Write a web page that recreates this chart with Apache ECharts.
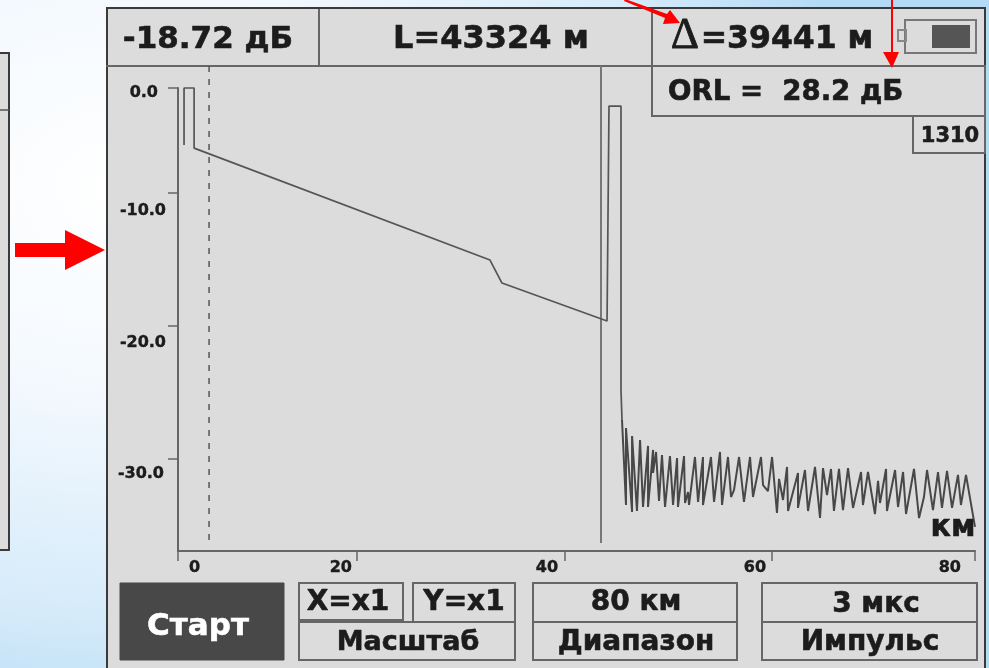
<!DOCTYPE html>
<html>
<head>
<meta charset="utf-8">
<style>
html,body{margin:0;padding:0;width:989px;height:668px;overflow:hidden;
background:radial-gradient(ellipse 75% 85% at 12% 28%, #ffffff 0%, #f4f9fe 35%, #d6ebfa 75%, #b4dbf5 100%);}
#c{width:989px;height:668px;filter:blur(0.4px);}
</style>
<script src="https://cdn.jsdelivr.net/npm/echarts@6/dist/echarts.min.js"></script>
</head>
<body>
<div id="c"></div>
<script>
// Distance ticks (km) and their labels
const xTickValues = [2.24, 19.7, 40, 60.2, 80];
const xTickLabels = ['0', '20', '40', '60', '80'];
// Level ticks (dB) and their labels
const yTickValues = [-2.10, -10, -20, -30];
const yTickLabels = ['0.0', '-10.0', '-20.0', '-30.0'];

// Trace: launch pulse, fibre slope, end reflection
const traceKm = [2.83, 2.83, 3.81, 3.81, 32.68, 33.85, 44.10, 44.29, 45.46, 45.46, 45.56];
const traceDb = [-6.39, -2.10, -2.10, -6.62, -15.04, -16.77, -19.62, -3.46, -3.46, -24.81, -27.07];

// Noise tail after the fibre end
const noiseKm = [45.56,45.95,45.95,46.54,46.54,47.02,47.32,47.61,48.10,48.10,48.59,48.59,48.88,49.17,49.46,49.76,50.24,50.54,50.93,51.02,51.61,51.71,52.00,52.10,52.68,52.98,53.46,53.46,54.24,54.54,55.12,55.32,55.90,56.20,56.49,56.98,57.46,58.05,58.34,59.12,59.32,59.80,60.20,60.68,60.88,61.27,61.66,61.76,62.73,62.73,63.41,63.71,64.39,64.88,65.17,65.56,65.95,66.24,66.73,67.12,67.61,68.10,68.88,69.07,69.56,70.24,70.54,70.73,71.32,71.41,72.20,72.49,72.98,73.27,74.05,74.54,75.02,75.32,75.90,76.39,76.78,77.27,77.76,78.34,78.63,79.12,80.00];
const noiseDb = [-27.07,-33.46,-27.67,-33.99,-28.27,-33.91,-28.57,-33.61,-29.02,-33.61,-29.32,-31.05,-29.47,-33.16,-29.70,-33.61,-29.78,-33.46,-29.93,-33.61,-29.78,-33.31,-32.48,-33.46,-29.85,-33.23,-29.85,-33.46,-29.85,-33.23,-29.47,-33.46,-29.85,-32.86,-32.33,-29.85,-33.23,-29.85,-32.86,-29.85,-31.96,-32.41,-29.85,-34.06,-31.50,-33.08,-30.60,-33.91,-31.05,-33.68,-30.83,-33.91,-30.60,-34.44,-30.68,-32.71,-30.75,-33.91,-30.75,-33.84,-30.68,-33.68,-30.98,-33.46,-30.98,-34.14,-31.65,-33.31,-30.75,-33.91,-30.83,-33.61,-30.98,-34.14,-30.75,-34.44,-32.86,-30.83,-33.84,-30.98,-33.68,-30.90,-33.68,-31.20,-33.46,-31.20,-35.11];

// Cursors
const dashedCursorKm = [5.27, 5.27];
const dashedCursorDb = [-0.45, -36.47];
const solidCursorKm = [43.51, 43.51];
const solidCursorDb = [-0.45, -36.32];

const readoutLevel = '-18.72 дБ';
const readoutLength = 'L=43324 м';
const readoutDelta = '=39441 м';
const readoutOrl = 'ORL =  28.2 дБ';
const wavelength = '1310';

const zip = (a, b) => a.map((v, i) => [v, b[i]]);
const FONT = '"DejaVu Sans"';
const INK = '#1c1c1c';
const EDGE = '#666666';

function box(x, y, w, h, fill, stroke, lw) {
  return {type:'rect', z:-10, shape:{x, y, width:w, height:h},
    style:{fill:fill || 'transparent', stroke:stroke || EDGE, lineWidth:lw == null ? 2 : lw}};
}
function hline(x1, y1, x2, y2, c, lw) {
  return {type:'line', z:-9, shape:{x1, y1, x2, y2}, style:{stroke:c || EDGE, lineWidth:lw || 2}};
}
function txt(s, x, y, size, opts) {
  return {type:'text', z:50, x, y, style:Object.assign({text:s, fill:INK, stroke:INK, lineWidth:0.6,
    font:'bold ' + size + 'px ' + FONT, align:'center', verticalAlign:'middle'}, opts || {})};
}
function red(points) {
  return {type:'polygon', z:60, shape:{points}, style:{fill:'#ff0000'}};
}

const graphics = [
  // left neighbouring panel
  box(-4, 53, 13, 497, '#dcdcdc', '#3a3a3a', 2),
  hline(0, 110, 9, 110, '#555', 1.5),
  // main device panel
  box(107, 8, 878, 670, '#dcdcdc', '#3a3a3a', 2),
  hline(106, 66, 985, 66),
  hline(319, 9, 319, 66),
  box(652, 66, 333, 50, '#dcdcdc', EDGE, 2),
  hline(652, 9, 652, 66),
  box(913, 116, 72, 37, '#dcdcdc', EDGE, 2),
  // battery
  box(905, 20, 71, 33, 'transparent', '#777', 2),
  box(898, 30, 8, 11, 'transparent', '#888', 2),
  {type:'rect', z:-8, shape:{x:932, y:25, width:38, height:23}, style:{fill:'#555'}},
  // buttons
  box(120, 583, 164, 77, '#484848', '#484848', 1),
  box(299, 583, 104, 37),
  box(413, 583, 102, 39),
  box(299, 622, 216, 38),
  box(533, 583, 204, 39),
  box(533, 622, 204, 38),
  box(762, 583, 215, 39),
  box(762, 622, 215, 38),
  // readouts
  txt(readoutLevel, 208, 40, 31),
  txt(readoutLength, 491, 40, 32),
  txt('Δ', 685, 36, 44, {font:'44px "Liberation Serif"', lineWidth:0.8}),
  txt(readoutDelta, 787, 40, 31.5),
  txt(readoutOrl, 668, 93, 27.6, {align:'left'}),
  txt(wavelength, 950, 137, 21),
  txt('км', 953, 528, 30),
  txt('Старт', 198, 627, 31, {fill:'#ffffff', stroke:'#ffffff'}),
  txt('X=x1', 348, 603, 28),
  txt('Y=x1', 464, 603, 28),
  txt('Масштаб', 408, 643, 27),
  txt('80 км', 636, 603, 28),
  txt('Диапазон', 636, 643, 28),
  txt('3 мкс', 876, 605, 28),
  txt('Импульс', 870, 643, 28),
  // red callout arrows
  red([[15,243],[65,243],[65,230],[105,250],[65,270],[65,257],[15,257]]),
  red([[625,-1],[667,14],[670,10],[680,23],[663,24],[665,18],[624,1]]),
  red([[891,-1],[893,-1],[893,52],[899,52],[892,68],[883,52],[891,52]])
];

const chart = echarts.init(document.getElementById('c'), null, {renderer:'canvas'});
chart.setOption({
  animation:false,
  graphic:{elements:graphics},
  grid:{left:178, right:14, top:88, bottom:117, containLabel:false},
  xAxis:{
    type:'value', min:2.24, max:80, position:'bottom',
    splitLine:{show:false},
    axisLine:{onZero:false, lineStyle:{color:EDGE, width:2}},
    axisTick:{show:true, length:10, customValues:xTickValues, lineStyle:{color:EDGE, width:1.5}},
    axisLabel:{
      show:true, customValues:xTickValues, margin:9, align:'right', alignMinLabel:'left', hideOverlap:false,
      color:INK, fontFamily:FONT, fontWeight:'bold', fontSize:16,
      textBorderColor:INK, textBorderWidth:0.4,
      formatter:v => {
        const l = xTickLabels[xTickValues.indexOf(v)];
        return '{t' + l + '|' + l + '}';
      },
      rich:{
        t0:{padding:[0,0,0,11]}, t20:{padding:[0,5,0,0]}, t40:{padding:[0,7,0,0]},
        t60:{padding:[0,6,0,0]}, t80:{padding:[0,14,0,0]}
      }
    }
  },
  yAxis:{
    type:'value', min:-36.92, max:-2.10, position:'left',
    splitLine:{show:false},
    axisLine:{show:true, onZero:false, lineStyle:{color:EDGE, width:2}},
    axisTick:{show:true, length:10, customValues:yTickValues, lineStyle:{color:EDGE, width:1.5}},
    axisLabel:{
      show:true, customValues:yTickValues, margin:12, align:'right', hideOverlap:false,
      color:INK, fontFamily:FONT, fontWeight:'bold', fontSize:16,
      textBorderColor:INK, textBorderWidth:0.4,
      formatter:v => {
        const i = yTickValues.indexOf(v);
        return '{y' + i + '|' + yTickLabels[i] + '}';
      },
      rich:{
        y0:{padding:[10,8,0,0]}, y1:{padding:[36,0,0,0]},
        y2:{padding:[34,0,0,0]}, y3:{padding:[30,2,0,0]}
      }
    }
  },
  series:[
    {type:'line', name:'trace', data:zip(traceKm, traceDb), showSymbol:false, clip:false, z:5,
      lineStyle:{color:'#555', width:1.7}},
    {type:'line', name:'noise', data:zip(noiseKm, noiseDb), showSymbol:false, clip:false, z:5,
      lineStyle:{color:'#484848', width:2}},
    {type:'line', name:'dashed cursor', data:zip(dashedCursorKm, dashedCursorDb), showSymbol:false, clip:false, z:4,
      lineStyle:{color:'#555', width:1.5, type:[6,7]}},
    {type:'line', name:'solid cursor', data:zip(solidCursorKm, solidCursorDb), showSymbol:false, clip:false, z:4,
      lineStyle:{color:'#777', width:2}}
  ]
});
</script>
</body>
</html>
